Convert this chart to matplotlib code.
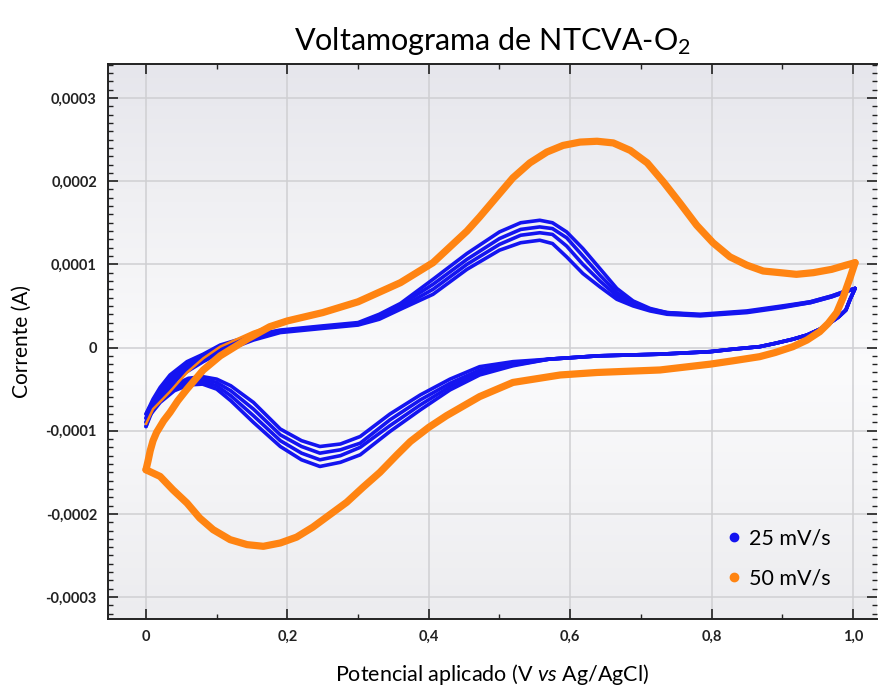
import numpy as np
import matplotlib
matplotlib.use('Agg')
import matplotlib.pyplot as plt
from matplotlib.lines import Line2D
from matplotlib.ticker import MultipleLocator, FuncFormatter
from matplotlib.colors import LinearSegmentedColormap

plt.rcParams['font.family'] = ['Lato', 'DejaVu Sans']
plt.rcParams['mathtext.fontset'] = 'custom'
plt.rcParams['mathtext.rm'] = 'Lato'
plt.rcParams['mathtext.it'] = 'Lato:italic'

# Corrente em unidades de 1e-4 A, potencial em V (vs Ag/AgCl)

# 25 mV/s - varredura de ida (4 ciclos)
v_ida_25 = [0.0, 0.01, 0.02, 0.034, 0.058, 0.081, 0.105, 0.152, 0.19, 0.25, 0.30, 0.33,
            0.36, 0.406, 0.454, 0.50, 0.53, 0.557, 0.575, 0.595, 0.618, 0.642, 0.666,
            0.689, 0.713, 0.737, 0.784, 0.85, 0.90, 0.94, 0.97, 0.99, 1.003]
i_ida_25_c1 = [-0.80, -0.62, -0.48, -0.33, -0.17, -0.08, 0.03, 0.15, 0.21, 0.26, 0.30, 0.40,
               0.53, 0.82, 1.13, 1.39, 1.50, 1.53, 1.50, 1.39, 1.19, 0.95, 0.71,
               0.56, 0.47, 0.42, 0.40, 0.44, 0.50, 0.55, 0.62, 0.68, 0.71]
i_ida_25_c2 = [-0.85, -0.66, -0.52, -0.37, -0.21, -0.11, 0.00, 0.13, 0.20, 0.25, 0.29, 0.38,
               0.51, 0.76, 1.06, 1.31, 1.42, 1.45, 1.43, 1.32, 1.10, 0.87, 0.66,
               0.54, 0.46, 0.42, 0.39, 0.43, 0.49, 0.55, 0.62, 0.68, 0.71]
i_ida_25_c3 = [-0.90, -0.70, -0.56, -0.41, -0.25, -0.14, -0.03, 0.11, 0.19, 0.24, 0.28, 0.36,
               0.48, 0.70, 1.00, 1.24, 1.35, 1.38, 1.36, 1.22, 1.00, 0.80, 0.62,
               0.52, 0.45, 0.41, 0.39, 0.43, 0.49, 0.54, 0.61, 0.67, 0.71]
i_ida_25_c4 = [-0.95, -0.74, -0.60, -0.45, -0.29, -0.17, -0.06, 0.09, 0.18, 0.23, 0.27, 0.34,
               0.46, 0.64, 0.94, 1.17, 1.26, 1.29, 1.25, 1.09, 0.89, 0.73, 0.58,
               0.50, 0.44, 0.40, 0.38, 0.42, 0.48, 0.54, 0.61, 0.67, 0.71]

# 25 mV/s - varredura de volta
v_volta_25 = [1.003, 0.996, 0.99, 0.98, 0.965, 0.953, 0.935, 0.915, 0.89, 0.868, 0.83, 0.798,
              0.727, 0.64, 0.57, 0.519, 0.472, 0.43, 0.388, 0.345, 0.303, 0.275, 0.246,
              0.22, 0.19, 0.152, 0.12, 0.10, 0.08, 0.06, 0.04, 0.02, 0.005, 0.0]
i_volta_25_c1 = [0.71, 0.58, 0.45, 0.37, 0.28, 0.22, 0.15, 0.10, 0.05, 0.01, -0.02, -0.05,
                 -0.08, -0.10, -0.14, -0.17, -0.23, -0.38, -0.57, -0.80, -1.07, -1.16, -1.19,
                 -1.12, -0.98, -0.66, -0.46, -0.38, -0.35, -0.37, -0.45, -0.58, -0.72, -0.80]
i_volta_25_c2 = [0.71, 0.58, 0.45, 0.37, 0.28, 0.22, 0.15, 0.10, 0.05, 0.01, -0.02, -0.05,
                 -0.08, -0.10, -0.14, -0.19, -0.27, -0.43, -0.63, -0.87, -1.15, -1.23, -1.27,
                 -1.19, -1.05, -0.74, -0.52, -0.42, -0.38, -0.40, -0.47, -0.60, -0.75, -0.85]
i_volta_25_c3 = [0.71, 0.58, 0.45, 0.37, 0.28, 0.22, 0.15, 0.10, 0.05, 0.01, -0.02, -0.05,
                 -0.08, -0.10, -0.14, -0.21, -0.30, -0.47, -0.69, -0.94, -1.20, -1.30, -1.35,
                 -1.27, -1.12, -0.82, -0.58, -0.46, -0.41, -0.42, -0.50, -0.63, -0.78, -0.90]
i_volta_25_c4 = [0.71, 0.58, 0.45, 0.37, 0.28, 0.22, 0.15, 0.10, 0.05, 0.01, -0.02, -0.05,
                 -0.08, -0.10, -0.14, -0.22, -0.33, -0.51, -0.75, -1.01, -1.29, -1.38, -1.43,
                 -1.35, -1.19, -0.90, -0.64, -0.50, -0.44, -0.45, -0.52, -0.66, -0.82, -0.95]

# 50 mV/s - inicio da primeira varredura
v_ini_50 = [0.0, 0.01, 0.034, 0.058, 0.081, 0.105, 0.152, 0.19]
i_ini_50 = [-0.92, -0.74, -0.53, -0.30, -0.13, 0.01, 0.19, 0.30]

# 50 mV/s - ida
v_ida_50 = [0.0, 0.003, 0.006, 0.01, 0.015, 0.025, 0.034, 0.045, 0.058, 0.081, 0.105, 0.143,
            0.175, 0.2, 0.25, 0.3, 0.36, 0.406, 0.454, 0.472, 0.496, 0.519, 0.543, 0.567,
            0.59, 0.614, 0.638, 0.661, 0.685, 0.709, 0.732, 0.755, 0.779, 0.802, 0.826,
            0.85, 0.873, 0.897, 0.92, 0.944, 0.97, 0.99, 1.003]
i_ida_50 = [-1.47, -1.36, -1.24, -1.12, -1.02, -0.88, -0.78, -0.64, -0.50, -0.27, -0.10, 0.10,
            0.25, 0.32, 0.42, 0.55, 0.78, 1.02, 1.40, 1.57, 1.81, 2.04, 2.22, 2.35,
            2.43, 2.47, 2.48, 2.46, 2.37, 2.22, 1.99, 1.74, 1.47, 1.26, 1.09,
            0.99, 0.92, 0.90, 0.88, 0.90, 0.94, 0.99, 1.02]

# 50 mV/s - volta
v_volta_50 = [1.003, 0.996, 0.986, 0.977, 0.965, 0.953, 0.935, 0.915, 0.89, 0.868, 0.83, 0.798,
              0.727, 0.638, 0.586, 0.519, 0.472, 0.425, 0.40, 0.374, 0.355, 0.331, 0.307,
              0.284, 0.26, 0.236, 0.213, 0.19, 0.166, 0.143, 0.119, 0.095, 0.076, 0.058,
              0.038, 0.02, 0.0]
i_volta_50 = [1.02, 0.84, 0.60, 0.42, 0.29, 0.19, 0.09, 0.01, -0.06, -0.11, -0.16, -0.20,
              -0.27, -0.30, -0.33, -0.42, -0.59, -0.82, -0.96, -1.13, -1.29, -1.50, -1.68,
              -1.86, -2.01, -2.16, -2.28, -2.35, -2.39, -2.37, -2.31, -2.19, -2.05, -1.87,
              -1.71, -1.55, -1.47]

azul = '#1414f0'
laranja = '#ff8412'
escala = 1e-4

fig = plt.figure(figsize=(8.79, 6.91), dpi=100)
ax = fig.add_axes([0.1229, 0.1042, 0.8748, 0.8032])

# fundo em degradê
cores_fundo = LinearSegmentedColormap.from_list(
    'fundo', [(0.0, '#ececef'), (0.45, '#fbfbfc'), (0.75, '#f0f0f3'), (1.0, '#e6e6ec')])
grad = np.linspace(0, 1, 256).reshape(-1, 1)
ax.imshow(grad, extent=[0, 1, 0, 1], transform=ax.transAxes, aspect='auto',
          cmap=cores_fundo, origin='lower', zorder=0)

ciclos_ida = [i_ida_25_c1, i_ida_25_c2, i_ida_25_c3, i_ida_25_c4]
ciclos_volta = [i_volta_25_c1, i_volta_25_c2, i_volta_25_c3, i_volta_25_c4]
for ida, volta in zip(ciclos_ida, ciclos_volta):
    ax.plot(v_ida_25, np.array(ida) * escala, color=azul, lw=2.6, zorder=3,
            solid_capstyle='round', solid_joinstyle='round')
    ax.plot(v_volta_25, np.array(volta) * escala, color=azul, lw=2.6, zorder=3,
            solid_capstyle='round', solid_joinstyle='round')

ax.plot(v_ini_50, np.array(i_ini_50) * escala, color=laranja, lw=1.8, zorder=4,
        solid_capstyle='round')
ax.plot(v_ida_50, np.array(i_ida_50) * escala, color=laranja, lw=5.2, zorder=4,
        solid_capstyle='round', solid_joinstyle='round')
ax.plot(v_volta_50, np.array(i_volta_50) * escala, color=laranja, lw=5.2, zorder=4,
        solid_capstyle='round', solid_joinstyle='round')

ax.set_xlim(-0.0537, 1.034)
ax.set_ylim(-3.264e-4, 3.409e-4)

ax.xaxis.set_major_locator(MultipleLocator(0.2))
ax.xaxis.set_minor_locator(MultipleLocator(0.1))
ax.yaxis.set_major_locator(MultipleLocator(1e-4))
ax.yaxis.set_minor_locator(MultipleLocator(1e-5))


def fmt_x(v, pos):
    if abs(v) < 1e-9:
        return '0'
    return f'{v:.1f}'.replace('.', ',')


def fmt_y(v, pos):
    if abs(v) < 1e-12:
        return '0'
    return f'{v:.4f}'.replace('.', ',')


ax.xaxis.set_major_formatter(FuncFormatter(fmt_x))
ax.yaxis.set_major_formatter(FuncFormatter(fmt_y))

ax.grid(True, which='major', color='#cfcfd2', lw=1.1, zorder=1)
ax.set_axisbelow(True)

ax.tick_params(which='both', direction='in', top=True, right=True, color='#222222')
ax.tick_params(which='major', length=7, width=1.2, labelsize=10.5, pad=8)
ax.tick_params(which='minor', length=3.5, width=1.0)
for lab in ax.get_xticklabels() + ax.get_yticklabels():
    lab.set_fontweight('bold')
    lab.set_color('#222222')

for lado in ['left', 'bottom', 'top']:
    ax.spines[lado].set_color('#222222')
    ax.spines[lado].set_linewidth(1.4)
ax.spines['right'].set_visible(False)

ax.set_title('Voltamograma de NTCVA-O$_\\mathregular{2}$', fontsize=22, pad=10)
ax.set_ylabel('Corrente (A)', fontsize=15, labelpad=10)
ax.set_xlabel('Potencial aplicado (V $\\mathit{vs}$ Ag/AgCl)', fontsize=15.5, labelpad=13)

marcas = [Line2D([], [], ls='', marker='o', ms=6, color=azul),
          Line2D([], [], ls='', marker='o', ms=6, color=laranja)]
ax.legend(marcas, ['25 mV/s', '50 mV/s'], loc='lower right', frameon=False,
          fontsize=15.5, labelspacing=0.95, handletextpad=0.15, handlelength=1.1,
          bbox_to_anchor=(0.965, 0.02))

fig.savefig('out.png', dpi=100)
